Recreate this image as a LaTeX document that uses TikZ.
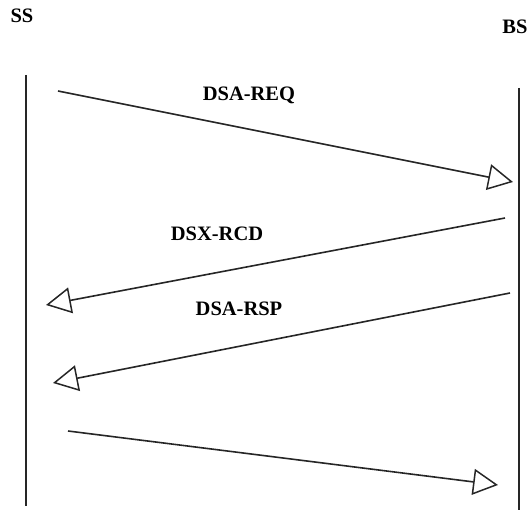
\documentclass[tikz,border=0pt]{standalone}
\usepackage{fontspec}
\setmainfont{Liberation Serif}
\usetikzlibrary{arrows.meta}
\begin{document}
\begin{tikzpicture}[x=1pt,y=-1pt,
  lifeline/.style={line width=1.4pt,draw=black!85},
  msg/.style={line width=1.6pt,draw=black!85,
    -{Triangle[open,length=25pt,width=26pt,line width=1.5pt]}},
  party/.style={font=\fontsize{20.5}{24}\selectfont\bfseries,inner sep=0pt},
  msglabel/.style={font=\fontsize{20.5}{24}\selectfont\bfseries,inner sep=0pt}]
\useasboundingbox (0,0) rectangle (528,510);

% parties
\node[party] (ss) at (22,16) {SS};
\node[party] (bs) at (515,27) {BS};

% lifelines
\coordinate (ssTop) at (26,75);
\coordinate (ssBot) at (26,506);
\coordinate (bsTop) at (519,88);
\coordinate (bsBot) at (519,510);
\draw[lifeline] (ssTop) -- (ssBot);
\draw[lifeline] (bsTop) -- (bsBot);

% message end points
\coordinate (m1s) at (58,91);
\coordinate (m1e) at (513,182);
\coordinate (m2s) at (505,218);
\coordinate (m2e) at (46,305);
\coordinate (m3s) at (510,293);
\coordinate (m3e) at (53,383);
\coordinate (m4s) at (68,431);
\coordinate (m4e) at (498,485);

% messages
\draw[msg] (m1s) -- (m1e);
\draw[msg] (m2s) -- (m2e);
\draw[msg] (m3s) -- (m3e);
\draw[msg] (m4s) -- (m4e);

% labels
\node[msglabel] (l1) at (249,95) {DSA-REQ};
\node[msglabel] (l2) at (217,234) {DSX-RCD};
\node[msglabel] (l3) at (239,309) {DSA-RSP};
\end{tikzpicture}
\end{document}
